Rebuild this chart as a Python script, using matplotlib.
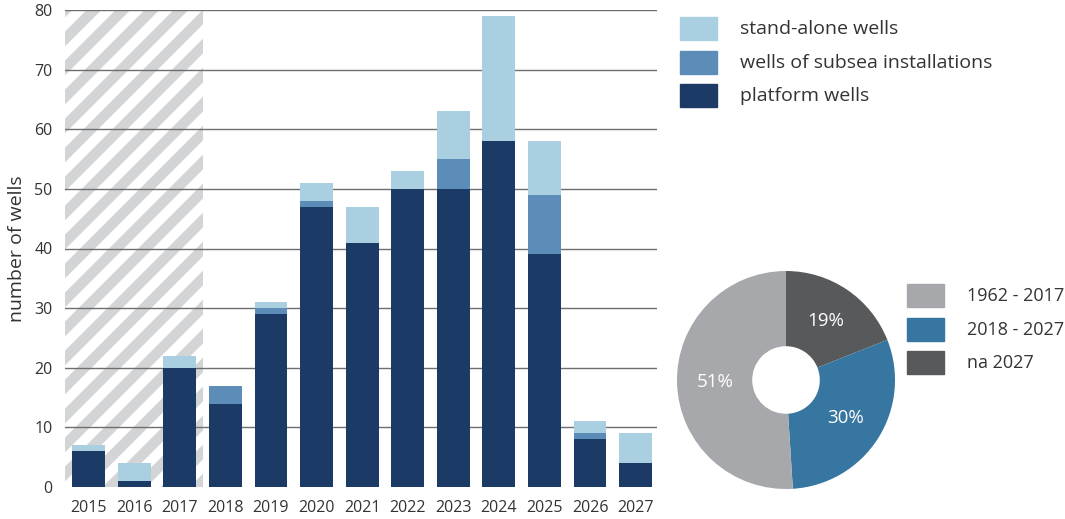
import matplotlib.pyplot as plt
from matplotlib.patches import Rectangle

plt.rcParams["font.family"] = ["Open Sans", "DejaVu Sans"]

years = ["2015", "2016", "2017", "2018", "2019", "2020", "2021",
         "2022", "2023", "2024", "2025", "2026", "2027"]
platform_wells = [6, 1, 20, 14, 29, 47, 41, 50, 50, 58, 39, 8, 4]
subsea_wells = [0, 0, 0, 3, 1, 1, 0, 0, 5, 0, 10, 1, 0]
standalone_wells = [1, 3, 2, 0, 1, 3, 6, 3, 8, 21, 9, 2, 5]
series_labels = ["stand-alone wells", "wells of subsea installations", "platform wells"]

share_labels = ["1962 - 2017", "2018 - 2027", "na 2027"]
share_values = [51, 30, 19]

c_platform = "#1b3a66"
c_subsea = "#5b8db8"
c_standalone = "#a9cfe0"
c_hist = "#a7a8ab"
c_now = "#3776a1"
c_future = "#58595b"
text_col = "#333333"

W, H = 1065, 519
fig = plt.figure(figsize=(W / 100, H / 100), dpi=100)
ax = fig.add_axes([65 / W, 32 / H, 592 / W, 477 / H])

x = list(range(len(years)))
ax.set_xlim(-0.52, 12.47)
ax.set_ylim(0, 80)

# striped background behind the historical years
shade = Rectangle((-0.52, 0), 3.03, 80, transform=ax.transData,
                  facecolor="white", edgecolor="none", zorder=0)
ax.add_patch(shade)
for k in range(-20, 30):
    x0 = 65 + k * 29 - 480
    (ln,) = ax.plot([x0 / W, (x0 + 520) / W], [0, 520 / H],
                    transform=fig.transFigure, color="#d3d4d6", lw=7.5,
                    solid_capstyle="butt", zorder=0.5)
    ln.set_clip_path(shade)

for v in range(10, 81, 10):
    ax.axhline(v, color="#6e6e6e", lw=1, zorder=1)

bw = 0.72
sub_base = platform_wells
sa_base = [p + s for p, s in zip(platform_wells, subsea_wells)]
ax.bar(x, platform_wells, bw, color=c_platform, zorder=2)
ax.bar(x, subsea_wells, bw, bottom=sub_base, color=c_subsea, zorder=2)
ax.bar(x, standalone_wells, bw, bottom=sa_base, color=c_standalone, zorder=2)

for s in ax.spines.values():
    s.set_visible(False)
ax.set_xticks(x)
ax.set_xticklabels(years)
ax.set_yticks(range(0, 81, 10))
ax.tick_params(length=0, labelsize=11.5, labelcolor=text_col)
ax.tick_params(axis="y", pad=9)
ax.tick_params(axis="x", pad=9)
ax.set_ylabel("number of wells", fontsize=14, color=text_col, labelpad=6)


def legend_block(x_px, y_px, colors, labels, size):
    # square swatches with labels, positioned in figure pixels from the top
    for i, (c, lab) in enumerate(zip(colors, labels)):
        top = y_px + i * 33.7
        fig.patches.append(Rectangle((x_px / W, 1 - (top + 23) / H), 37 / W, 23 / H,
                                     transform=fig.transFigure, color=c))
        fig.text((x_px + 60) / W, 1 - (top + 12) / H, lab, fontsize=size,
                 color=text_col, va="center", ha="left")


legend_block(680, 17, [c_standalone, c_subsea, c_platform], series_labels, 14)

# donut of shares, drawn clockwise from the top
pax = fig.add_axes([677 / W, (H - 489) / H, 218 / W, 218 / H])
order = [2, 1, 0]
pax.pie([share_values[i] for i in order],
        colors=[[c_hist, c_now, c_future][i] for i in order],
        labels=None, autopct=lambda p: f"{p:.0f}%", pctdistance=0.65,
        startangle=90, counterclock=False, radius=1,
        wedgeprops=dict(width=0.69, linewidth=0),
        textprops=dict(color="white", fontsize=13.5))
pax.set_xlim(-1, 1)
pax.set_ylim(-1, 1)
pax.set_aspect("equal")
pax.axis("off")

legend_block(907, 284, [c_hist, c_now, c_future], share_labels, 13)

fig.savefig("out.png", dpi=100)
